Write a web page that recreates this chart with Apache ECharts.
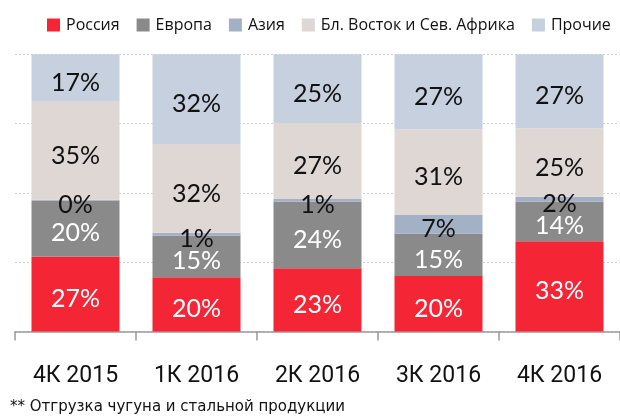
<!DOCTYPE html>
<html><head><meta charset="utf-8">
<script src="https://cdn.jsdelivr.net/npm/echarts@6/dist/echarts.min.js"></script>
<style>html,body{margin:0;padding:0;background:#fff}#c{width:620px;height:418px}</style>
</head><body><div id="c"></div>
<script>
const categories = ['4К 2015', '1К 2016', '2К 2016', '3К 2016', '4К 2016'];
const seriesNames = ['Россия', 'Европа', 'Азия', 'Бл. Восток и Сев. Африка', 'Прочие'];
const russia = [27.1, 19.6, 22.8, 20.0, 32.6];
const europe = [20.2, 15.0, 24.0, 15.3, 14.3];
const asia   = [0.2, 1.0, 1.0, 6.7, 1.7];
const mena   = [35.4, 32.0, 27.4, 31.0, 24.7];
const other  = [17.1, 32.4, 24.8, 27.0, 26.7];
const yTicks = [0, 25, 50, 75, 100];
const footnote = '** Отгрузка чугуна и стальной продукции';

const colors = ['#F42534', '#8A8A8A', '#A3B1C7', '#DFD7D4', '#C7D0DF'];
const labelColors = ['#ffffff', '#ffffff', '#111111', '#111111', '#111111'];
const values = [russia, europe, asia, mena, other];

const chart = echarts.init(document.getElementById('c'), null, {renderer: 'canvas'});
chart.setOption({
  animation: false,
  color: colors,
  legend: {
    data: seriesNames,
    left: 42, top: 12, width: 600,
    itemWidth: 13, itemHeight: 13, itemGap: 17,
    icon: 'rect',
    textStyle: {fontFamily: 'Open Sans', fontSize: 16, color: '#111', padding: [0, 0, 0, 1]}
  },
  graphic: [{
    type: 'text', left: 10, top: 400,
    style: {text: footnote, fontFamily: 'DejaVu Sans', fontSize: 15, fill: '#111'}
  }],
  grid: {left: 15, right: -12.5, top: 54.3, bottom: 86.5},
  xAxis: {
    type: 'category', data: categories,
    axisLine: {lineStyle: {color: '#9a9a9a', width: 1.5}},
    axisTick: {show: true, length: 9, lineStyle: {color: '#9a9a9a', width: 1.5}},
    axisLabel: {fontFamily: 'Roboto', fontSize: 23, color: '#111', margin: 33}
  },
  yAxis: {
    type: 'value', min: yTicks[0], max: yTicks[yTicks.length - 1], interval: 25,
    axisLabel: {show: false}, axisLine: {show: false}, axisTick: {show: false},
    splitLine: {lineStyle: {color: '#cfcfcf', type: [2, 2], width: 1}}
  },
  series: seriesNames.map((name, i) => ({
    name, type: 'bar', stack: 'total', barWidth: 88,
    data: values[i],
    itemStyle: {color: colors[i]},
    label: {
      show: true, position: 'inside', offset: [0, 5],
      formatter: p => Math.round(p.value) + '%',
      fontFamily: 'Lato', fontSize: 25, color: labelColors[i]
    }
  }))
});
</script></body></html>
